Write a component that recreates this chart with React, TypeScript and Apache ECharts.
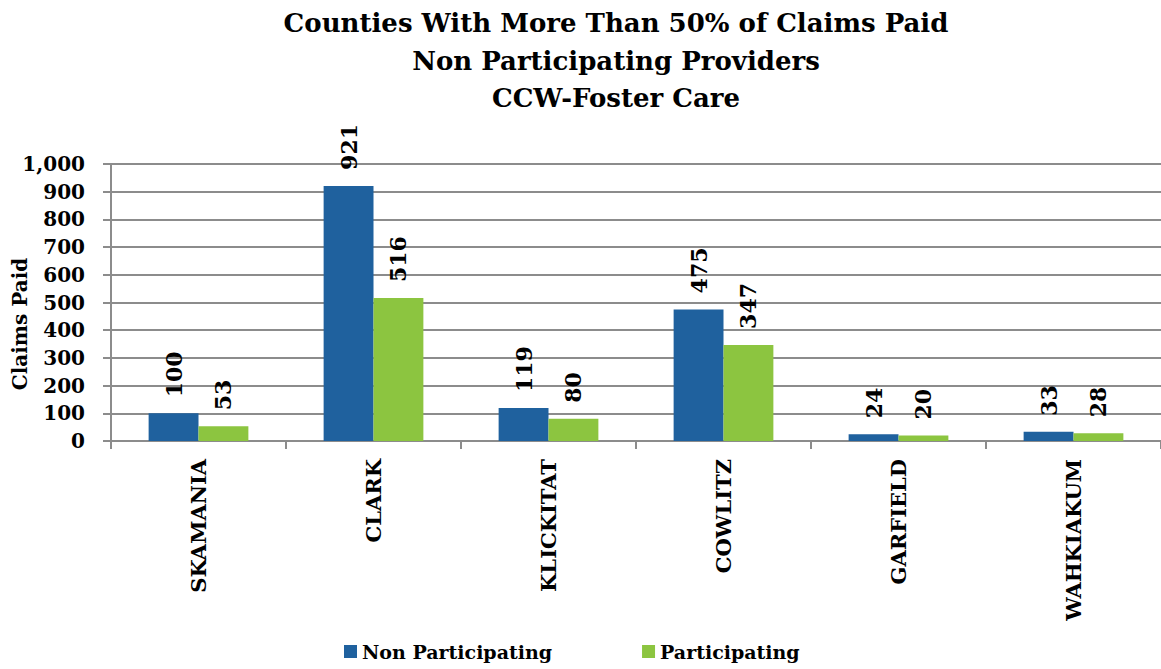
import React, { useEffect, useRef } from "react";
import * as echarts from "echarts";

const categories = ["SKAMANIA", "CLARK", "KLICKITAT", "COWLITZ", "GARFIELD", "WAHKIAKUM"];
const nonParticipating = [100, 921, 119, 475, 24, 33];
const participating = [53, 516, 80, 347, 20, 28];
const titleLines = [
  "Counties With More Than 50% of Claims Paid",
  "Non Participating Providers",
  "CCW-Foster Care",
];

const FONT = "'DejaVu Serif', serif";

export default function App() {
  const ref = useRef<HTMLDivElement>(null);
  useEffect(() => {
    const chart = echarts.init(ref.current!, null, { renderer: "svg" });
    const valueLabel = {
      show: true,
      position: "top" as const,
      rotate: 90,
      align: "left",
      verticalAlign: "middle",
      distance: 16,
      fontFamily: FONT,
      fontWeight: "bold" as const,
      fontSize: 22,
      color: "#000",
    };
    const titleY = [23, 61, 98];
    chart.setOption({
      animation: false,
      backgroundColor: "#fff",
      legend: {
        bottom: 3,
        left: 339,
        itemWidth: 13,
        itemHeight: 13,
        itemGap: 90,
        icon: "rect",
        textStyle: { fontFamily: FONT, fontWeight: "bold", fontSize: 19, color: "#000" },
        data: ["Non Participating", "Participating"],
      },
      grid: { left: 111, right: -7, top: 164, bottom: 228, containLabel: false },
      xAxis: {
        type: "category",
        data: categories,
        axisLine: { lineStyle: { color: "#8c8c8c", width: 2 } },
        axisTick: { show: true, length: 8, lineStyle: { color: "#8c8c8c", width: 2 } },
        axisLabel: {
          rotate: 90,
          margin: 18,
          fontFamily: FONT,
          fontWeight: "bold",
          fontSize: 21,
          color: "#000",
        },
      },
      yAxis: {
        type: "value",
        min: 0,
        max: 1000,
        interval: 100,
        axisLine: { show: true, lineStyle: { color: "#8c8c8c", width: 2 } },
        axisTick: { show: true, length: 8, lineStyle: { color: "#8c8c8c", width: 2 } },
        splitLine: { lineStyle: { color: "#8c8c8c", width: 2 } },
        axisLabel: {
          margin: 26,
          fontFamily: FONT,
          fontWeight: "bold",
          fontSize: 20,
          color: "#000",
          formatter: (v: number) => v.toLocaleString("en-US"),
        },
      },
      graphic: [
        ...titleLines.map((t, i) => ({
          type: "text",
          x: 616,
          y: titleY[i],
          style: {
            text: t,
            fontFamily: FONT,
            fontWeight: "bold",
            fontSize: 26,
            fill: "#000",
            align: "center",
            verticalAlign: "middle",
          },
        })),
        {
          type: "text",
          x: 20,
          y: 324,
          rotation: Math.PI / 2,
          style: {
            text: "Claims Paid",
            fontFamily: FONT,
            fontWeight: "bold",
            fontSize: 20,
            fill: "#000",
            align: "center",
            verticalAlign: "middle",
          },
        },
      ],
      series: [
        {
          name: "Non Participating",
          type: "bar",
          data: nonParticipating,
          barGap: "0%",
          barCategoryGap: "43%",
          itemStyle: { color: "#1f619e" },
          label: valueLabel,
        },
        {
          name: "Participating",
          type: "bar",
          data: participating,
          itemStyle: { color: "#8cc540" },
          label: valueLabel,
        },
      ],
    });
    return () => chart.dispose();
  }, []);
  return (
    <div
      ref={ref}
      style={{ position: "fixed", left: 0, top: 0, width: 1161, height: 669 }}
    />
  );
}
